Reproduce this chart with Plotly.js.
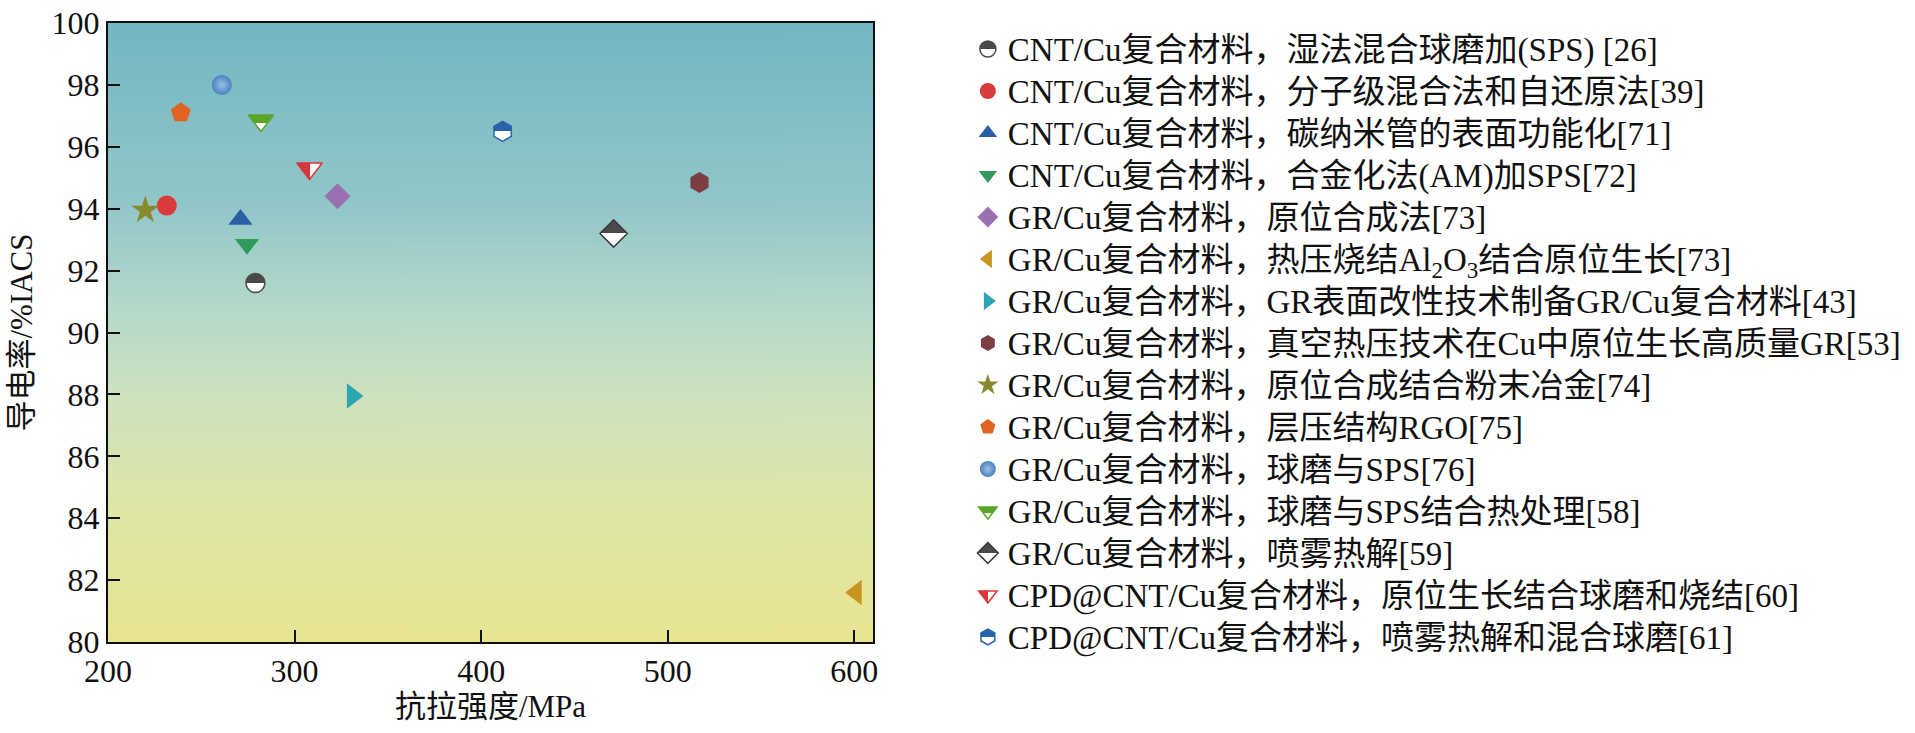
<!DOCTYPE html>
<html>
<head>
<meta charset="utf-8">
<script src="https://cdn.plot.ly/plotly-3.0.1.min.js"></script>
<style>
  html, body { margin: 0; padding: 0; background: #fff; }
  #chart { width: 1915px; height: 733px; }
  /* legend rows keep the 30px spacing, text itself a bit wider like the reference */
  #chart .legendtext { font-size: 33px !important; }
  #chart .legend .scrollbox, #chart .legend { clip-path: none !important; }
</style>
</head>
<body>
<div id="chart"></div>
<script>
    // --- DATA ---
    const seriesNames = [
        'CNT/Cu复合材料，湿法混合球磨加(SPS) [26]',
        'CNT/Cu复合材料，分子级混合法和自还原法[39]',
        'CNT/Cu复合材料，碳纳米管的表面功能化[71]',
        'CNT/Cu复合材料，合金化法(AM)加SPS[72]',
        'GR/Cu复合材料，原位合成法[73]',
        'GR/Cu复合材料，热压烧结Al<sub>2</sub>O<sub>3</sub>结合原位生长[73]',
        'GR/Cu复合材料，GR表面改性技术制备GR/Cu复合材料[43]',
        'GR/Cu复合材料，真空热压技术在Cu中原位生长高质量GR[53]',
        'GR/Cu复合材料，原位合成结合粉末冶金[74]',
        'GR/Cu复合材料，层压结构RGO[75]',
        'GR/Cu复合材料，球磨与SPS[76]',
        'GR/Cu复合材料，球磨与SPS结合热处理[58]',
        'GR/Cu复合材料，喷雾热解[59]',
        'CPD@CNT/Cu复合材料，原位生长结合球磨和烧结[60]',
        'CPD@CNT/Cu复合材料，喷雾热解和混合球磨[61]'
    ];
    const tensileStrength = [279, 231.5, 271, 274.5, 323, 601, 331, 517, 220, 239, 261, 282, 471, 308, 411.5];
    const conductivity    = [91.6, 94.1, 93.65, 92.85, 94.4, 81.6, 87.95, 94.85, 93.95, 97.1, 98.0, 96.85, 93.2, 95.3, 96.5];
    const yTicks = [80, 82, 84, 86, 88, 90, 92, 94, 96, 98, 100];
    const xTicks = [200, 300, 400, 500, 600];

    // --- MARKER STYLES ---
    const markerStyles = [
        { symbol: 'circle',        color: '#4a4a4a', size: 19, line: '#4a4a4a', grad: { type: 'vertical', color: '#ffffff' } },
        { symbol: 'circle',        color: '#d93a3c', size: 20 },
        { symbol: 'triangle-up',   color: '#2a5fa8', size: 21 },
        { symbol: 'triangle-down', color: '#2f9a5c', size: 21 },
        { symbol: 'diamond',       color: '#9a70b2', size: 20 },
        { symbol: 'triangle-left', color: '#c99420', size: 22 },
        { symbol: 'triangle-right',color: '#2aa7b1', size: 22 },
        { symbol: 'hexagon',       color: '#7b3f42', size: 21 },
        { symbol: 'star',          color: '#868a2c', size: 21 },
        { symbol: 'pentagon',      color: '#e06322', size: 21 },
        { symbol: 'circle',        color: '#4a82bf', size: 20, grad: { type: 'radial', color: '#9dbfe6' } },
        { symbol: 'triangle-down', color: '#5aa52a', size: 22, line: '#5aa52a', grad: { type: 'vertical', color: '#ffffff' } },
        { symbol: 'diamond',       color: '#4a4a4a', size: 21, line: '#3a3a3a', grad: { type: 'vertical', color: '#ffffff' } },
        { symbol: 'triangle-down', color: '#d9363a', size: 22, line: '#d9363a', grad: { type: 'horizontal', color: '#ffffff' } },
        { symbol: 'hexagon',       color: '#2a62ab', size: 20, line: '#2a62ab', grad: { type: 'vertical', color: '#ffffff' } }
    ];

    // --- BACKGROUND GRADIENT (teal -> yellow) ---
    function gradientImage() {
        const c = document.createElement('canvas');
        c.width = 4; c.height = 600;
        const g = c.getContext('2d');
        const lg = g.createLinearGradient(0, 0, 0, 600);
        lg.addColorStop(0.00, '#73b6c2');
        lg.addColorStop(0.30, '#93c7c9');
        lg.addColorStop(0.45, '#b3d8cb');
        lg.addColorStop(0.60, '#cde2bf');
        lg.addColorStop(0.75, '#dce5aa');
        lg.addColorStop(1.00, '#e8e590');
        g.fillStyle = lg;
        g.fillRect(0, 0, 4, 600);
        return c.toDataURL();
    }

    const fontFam = '"Liberation Serif", "Times New Roman", "Noto Sans CJK SC", serif';

    const traces = seriesNames.map(function(name, i) {
        const s = markerStyles[i];
        const marker = {
            symbol: s.symbol,
            color: s.color,
            size: s.size,
            line: { color: s.line || s.color, width: s.line ? 1.5 : 0 }
        };
        if (s.grad) marker.gradient = s.grad;
        return {
            type: 'scatter',
            mode: 'markers',
            name: name,
            x: [tensileStrength[i]],
            y: [conductivity[i]],
            marker: marker
        };
    });

    const layout = {
        width: 1915,
        height: 733,
        margin: { l: 108, r: 1042, t: 23, b: 91 },
        paper_bgcolor: '#ffffff',
        plot_bgcolor: '#e8e590',
        font: { family: fontFam, color: '#111', size: 32 },
        showlegend: true,
        legend: {
            x: 1.124, xref: 'paper', xanchor: 'left',
            y: 1.0, yanchor: 'top',
            maxheight: 720,
            font: { family: fontFam, size: 30, color: '#111' },
            bgcolor: 'rgba(0,0,0,0)',
            itemwidth: 30,
            tracegroupgap: 0
        },
        xaxis: {
            range: [200, 610],
            tickvals: xTicks,
            ticks: 'inside', ticklen: 12, tickwidth: 2, tickcolor: '#111',
            showline: true, linecolor: '#111', linewidth: 2, mirror: true,
            showgrid: false, zeroline: false,
            tickfont: { family: fontFam, size: 32, color: '#111' },
            title: { text: '抗拉强度/MPa', font: { family: fontFam, size: 31, color: '#111' }, standoff: 4 }
        },
        yaxis: {
            range: [80, 100],
            tickvals: yTicks,
            ticks: 'inside', ticklen: 12, tickwidth: 2, tickcolor: '#111',
            showline: true, linecolor: '#111', linewidth: 2, mirror: true,
            showgrid: false, zeroline: false,
            tickfont: { family: fontFam, size: 32, color: '#111' },
            title: { text: '导电率/%IACS', font: { family: fontFam, size: 31, color: '#111' }, standoff: 10 }
        },
        images: [{
            source: gradientImage(),
            xref: 'paper', yref: 'paper',
            x: 0, y: 1, sizex: 1, sizey: 1,
            xanchor: 'left', yanchor: 'top',
            sizing: 'stretch', layer: 'below'
        }]
    };

    // make the half-filled markers split sharply instead of a soft blend
    function sharpenGradients() {
        document.querySelectorAll('#chart linearGradient stop').forEach(function(st) {
            st.setAttribute('offset', '50%');
        });
    }

    Plotly.newPlot('chart', traces, layout, { displayModeBar: false, staticPlot: true })
        .then(sharpenGradients);
</script>
</body>
</html>
